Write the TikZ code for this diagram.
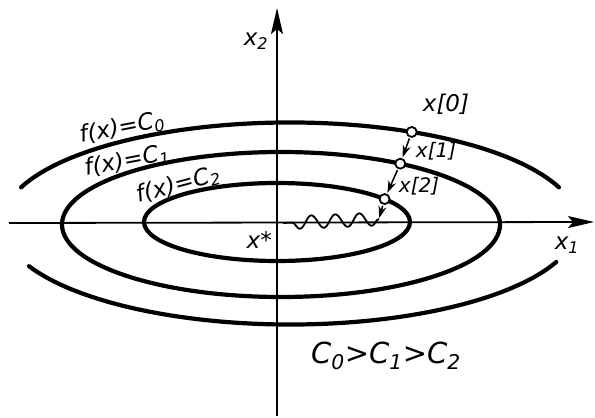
\documentclass[tikz,border=0pt]{standalone}
\usepackage{fontspec}
\setmainfont{DejaVu Sans}
\usetikzlibrary{arrows.meta,calc,decorations.pathmorphing}

\begin{document}
\begin{tikzpicture}[
  x=1pt, y=1pt,
  level/.style={line width=4.2pt, line cap=round},
  axis/.style={line width=1.8pt, -{Stealth[length=26pt, width=12pt, inset=5pt]}},
  iterate/.style={circle, draw, fill=white, line width=1.8pt, inner sep=0pt, minimum size=10pt},
  stepline/.style={line width=1.5pt, -{Stealth[length=12pt, width=8pt]}, shorten <=1pt, shorten >=1pt},
  lbl/.style={font=\fontsize{23}{23}\selectfont\itshape, inner sep=1pt},
  smalllbl/.style={font=\fontsize{20}{20}\selectfont\itshape, inner sep=1pt},
  biglbl/.style={font=\fontsize{29}{29}\selectfont\itshape, inner sep=1pt}
]
  \useasboundingbox (0,0) rectangle (595,418);

  % Centres of the level lines
  \coordinate (c0) at (290,194.5);
  \coordinate (c1) at (281,193.5);
  \coordinate (c2) at (277,196);
  \coordinate (xstar) at (283,195);

  % Axes
  \coordinate (x1tail) at (9,195);
  \coordinate (x1tip) at (594,196);
  \coordinate (x2tail) at (277,2);
  \coordinate (x2tip) at (277,410);
  \draw[axis] (x1tail) -- (x1tip);
  \draw[axis] (x2tail) -- (x2tip);

  % Level lines f(x)=C
  \draw[level] ($(c0)+(159:288 and 101)$) arc[start angle=159, end angle=21, x radius=288, y radius=101];
  \draw[level] ($(c0)+(205:288 and 101)$) arc[start angle=205, end angle=337.6, x radius=288, y radius=101];
  \draw[level] (c1) ellipse[x radius=219, y radius=72.5];
  \draw[level] (c2) ellipse[x radius=133, y radius=39];

  % Iterates x[k]
  \node[iterate] (p0) at ($(c0)+(65:288 and 101)$) {};
  \node[iterate] (p1) at ($(c1)+(57:219 and 72.5)$) {};
  \node[iterate] (p2) at ($(c2)+(36:133 and 39)$) {};
  \coordinate (p3) at (379,199);

  \draw[stepline] (p0) -- (p1);
  \draw[stepline] (p1) -- (p2);
  \draw[stepline] (p2) -- (p3);
  \draw[line width=1.8pt, decorate, decoration={snake, amplitude=6.5pt, segment length=24pt}] (p3) -- (xstar);

  % Labels
  \node[lbl] (x2lbl) at (256,377) {x\textsubscript{2}};
  \node[lbl] (x1lbl) at (567,173) {x\textsubscript{1}};
  \node[lbl, anchor=east] (xstarlbl) at (273,178) {x*};
  \node[lbl] (f0) at (122,290) {\rotatebox{11}{f(x)=C\textsubscript{0}}};
  \node[lbl] (f1) at (127,257) {\rotatebox{11}{f(x)=C\textsubscript{1}}};
  \node[lbl] (f2) at (178,233) {\rotatebox{15}{f(x)=C\textsubscript{2}}};
  \node[lbl] (l0) at (446,314) {x[0]};
  \node[smalllbl] (l1) at (436,267) {x[1]};
  \node[smalllbl] (l2) at (419,232) {x[2]};
  \node[biglbl] (order) at (386,62) {C\textsubscript{0}>C\textsubscript{1}>C\textsubscript{2}};
\end{tikzpicture}
\end{document}
